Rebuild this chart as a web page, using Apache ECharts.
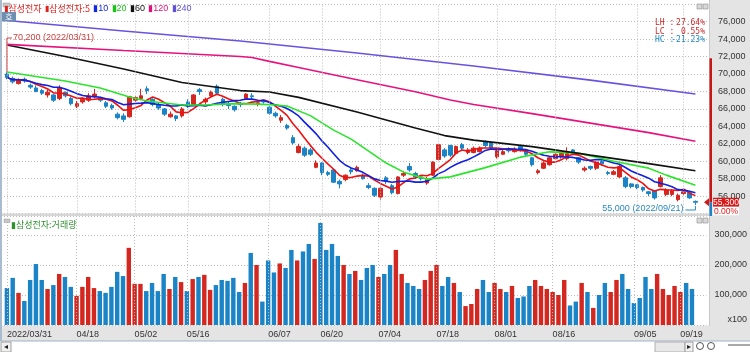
<!DOCTYPE html>
<html>
<head>
<meta charset="utf-8">
<script src="https://cdn.jsdelivr.net/npm/echarts@6/dist/echarts.min.js"></script>
<style>
html, body { margin: 0; padding: 0; background: #fff; }
#chart { width: 750px; height: 352px; }
</style>
</head>
<body>
<div id="chart"></div>
<script>
// ================= 데이터 =================
const dates = [
  '2022/03/31',
  '2022/04/01','2022/04/04','2022/04/05','2022/04/06','2022/04/07','2022/04/08','2022/04/11','2022/04/12','2022/04/13','2022/04/14','2022/04/15',
  '2022/04/18','2022/04/19','2022/04/20','2022/04/21','2022/04/22','2022/04/25','2022/04/26','2022/04/27','2022/04/28','2022/04/29',
  '2022/05/02','2022/05/03','2022/05/04','2022/05/06','2022/05/09','2022/05/10','2022/05/11','2022/05/12','2022/05/13',
  '2022/05/16','2022/05/17','2022/05/18','2022/05/19','2022/05/20','2022/05/23','2022/05/24','2022/05/25','2022/05/26','2022/05/27','2022/05/30','2022/05/31',
  '2022/06/02','2022/06/03','2022/06/07','2022/06/08','2022/06/09','2022/06/10','2022/06/13','2022/06/14','2022/06/15','2022/06/16','2022/06/17',
  '2022/06/20','2022/06/21','2022/06/22','2022/06/23','2022/06/24','2022/06/27','2022/06/28','2022/06/29','2022/06/30',
  '2022/07/01','2022/07/04','2022/07/05','2022/07/06','2022/07/07','2022/07/08','2022/07/11','2022/07/12','2022/07/13','2022/07/14','2022/07/15',
  '2022/07/18','2022/07/19','2022/07/20','2022/07/21','2022/07/22','2022/07/25','2022/07/26','2022/07/27','2022/07/28','2022/07/29',
  '2022/08/01','2022/08/02','2022/08/03','2022/08/04','2022/08/05','2022/08/08','2022/08/09','2022/08/10','2022/08/11','2022/08/12',
  '2022/08/16','2022/08/17','2022/08/18','2022/08/19','2022/08/22','2022/08/23','2022/08/24','2022/08/25','2022/08/26','2022/08/29','2022/08/30','2022/08/31',
  '2022/09/01','2022/09/02','2022/09/05','2022/09/06','2022/09/07','2022/09/08','2022/09/13','2022/09/14','2022/09/15','2022/09/16',
  '2022/09/19','2022/09/20','2022/09/21'
]

// [시가, 종가, 저가, 고가]
const ohlc = [
  [70000,69600,69400,70200],[69500,69100,68900,69700],[68900,69300,68800,69500],[69400,69200,69000,69600],[68700,68500,68300,68900],
  [68400,68000,67900,68700],[68100,67800,67600,68300],[67600,67900,67300,68200],[67600,67000,66800,67700],[67200,68400,67000,68700],
  [67900,67500,67300,68000],[67200,66600,66400,67400],[66300,66600,66100,66900],[66800,67100,66600,67300],[67000,67500,66800,67800],
  [67400,67700,67200,68300],[67300,67000,66800,67400],[66700,66300,66100,66900],[66400,66100,65900,66600],[65400,65000,64800,65600],
  [65200,64800,64500,65500],[65100,67400,65000,67500],[67000,67300,66800,67500],[67200,67500,67000,68300],[68300,68100,67700,68600],
  [67100,66500,66300,67200],[66500,66100,65900,66700],[66000,65400,65200,66100],[65100,65400,65000,65700],[65200,64900,64600,65300],
  [65200,66000,65000,66200],[66800,66300,66100,67100],[66500,67600,66400,67700],[68200,68000,67600,68400],[66800,67100,66500,67300],
  [67500,67900,67300,68100],[68600,67800,67600,68800],[67100,66500,66300,67300],[66600,66400,66000,66800],[66300,65900,65700,66400],
  [66600,66500,66200,66800],[67200,67700,67100,67800],[67500,67400,67100,67800],[66500,66700,66300,67000],[67000,66800,66600,67100],
  [66200,65500,65300,66300],[65500,65200,65000,65700],[64700,65000,64400,65300],[64100,63800,63600,64300],[62700,62100,61900,63000],
  [61000,61700,60900,62000],[61500,60700,60500,61700],[61300,60800,60600,61500],[59300,59800,59200,60100],[59800,58700,58400,59900],
  [58700,58500,58300,58900],[59000,57600,57500,59100],[57700,57400,56900,57900],[57900,58400,57700,58500],[59000,58800,58500,59300],
  [58900,59300,58800,59500],[58400,58000,57900,58600],[57200,57000,56800,57500],[56900,56100,55900,57000],[55900,56900,55600,57000],
  [58100,57700,57400,58300],[57200,56400,56200,57400],[56300,58200,56200,58300],[58400,58600,58200,58900],[59400,59000,58800,59800],
  [58600,58200,58000,58800],[58200,58000,57800,58400],[57500,57900,57300,58200],[58400,59900,58300,60000],[60200,61900,60100,62000],
  [61300,60600,60400,61500],[61800,60700,60500,61900],[60900,61700,60800,61800],[61900,61500,61300,62100],[61000,61300,60800,61500],
  [61000,61500,60900,61700],[61100,61500,61000,61700],[62200,61800,61600,62400],[62100,61500,61300,62300],[60500,61200,60300,61400],
  [60800,61100,60700,61300],[61400,61200,61000,61600],[61100,61400,61000,61600],[61700,61300,61100,61800],[61300,60800,60600,61400],
  [60400,59600,59400,60500],[58700,58900,58500,59100],[59200,59800,59100,60000],[59600,60400,59500,60500],[60300,60800,60200,61000],
  [60500,60900,60300,61100],[60300,60900,60100,61600],[61300,61000,60800,61400],[60400,59900,59700,60500],[59000,59200,58800,59400],
  [59400,59200,59000,59500],[59200,59900,59000,60000],[60000,59700,59500,60100],[58700,58600,58400,58900],[58500,58800,58400,59000],
  [58200,59400,58100,59600],[58100,57100,56900,58300],[57400,57100,56900,57500],[57300,57000,56800,57400],[57000,56700,56500,57100],
  [56500,56300,56000,56600],[56600,55800,55600,56700],[57100,58100,57000,58400],[56200,56700,56000,56900],[56200,56600,56000,56800],
  [55600,56100,55400,56300],[56300,56500,56100,56700],[56400,55800,55700,56600],[55400,55300,55000,55500]
]

// 거래량 (x100)
const volumes = [
  123000,157000,107000,80000,150000,203000,150000,120000,133000,170000,160000,127000,97000,127000,160000,123000,113000,107000,127000,177000,
  163000,257000,137000,137000,113000,140000,113000,170000,120000,160000,143000,113000,153000,160000,167000,117000,133000,150000,147000,157000,
  110000,140000,240000,200000,78000,215000,175000,205000,190000,250000,215000,245000,270000,220000,340000,250000,270000,230000,200000,170000,
  180000,150000,190000,200000,160000,170000,200000,250000,170000,140000,130000,120000,150000,180000,200000,130000,160000,140000,110000,63000,
  70000,120000,150000,110000,140000,120000,110000,130000,90000,95000,130000,150000,130000,120000,110000,100000,150000,65000,78000,140000,
  110000,57000,100000,140000,110000,150000,170000,120000,73000,90000,160000,120000,170000,120000,100000,130000,110000,140000,120000
]

// 차트에서 읽은 이동평균 (index, 값)
const ma20Read = [[0,70220],[10,69190],[16,68390],[21,67360],[24,66900],[30,66440],[34,66440],[39,66610],[43,66550],[46,66440],
  [48,66320],[52,65230],[56,63570],[59,62540],[65,59790],[68,58750],[72,57950],[76,58210],[82,59270],[88,60470],[93,61080],
  [98,60930],[104,60010],[110,59210],[113,58410],[118,57260]]
const ma60Read = [[0,73320],[10,72000],[20,70570],[30,69020],[40,68100],[45,67930],[50,67320],[60,65640],[70,63800],[75,62940],
  [80,62420],[90,61680],[100,60700],[110,59730],[118,58920]]
const ma120Read = [[0,73400],[20,72690],[40,72010],[42,71890],[45,71450],[50,70750],[60,69350],[70,67970],[76,67010],[80,66500],
  [90,65460],[100,64370],[110,63280],[118,62290]]
const ma240Read = [[0,76130],[20,74930],[40,73780],[60,72400],[80,70910],[100,69300],[118,67700]]

const labelDates = ['2022/03/31','2022/04/18','2022/05/02','2022/05/16','2022/06/07','2022/06/20','2022/07/04',
  '2022/07/18','2022/08/01','2022/08/16','2022/09/05','2022/09/19']

const upperLimit = 71800
const changeText = '0.00%'

// ================= 스타일 =================
const UP = '#d42720'
const DOWN = '#1a84c6'
const NUM_FONT = "'Liberation Sans', 'Noto Sans CJK KR', sans-serif"
const KR_FONT = "'Noto Sans CJK KR', 'Liberation Sans', sans-serif"
const MONO = "'DejaVu Sans Mono', monospace"
const GRID_LINE = { type: [1, 2], color: '#bdbdbd', width: 1 }

const closes = ohlc.map(d => d[1])
const calcMA = (n) => closes.map((_, i) => {
  const s = Math.max(0, i - n + 1)
  let sum = 0
  for (let j = s; j <= i; j++) sum += closes[j]
  return Math.round(sum / (i - s + 1))
})

const fmt = (v) => v.toLocaleString('en-US')
const labelIdx = labelDates.map(d => dates.indexOf(d))

const vLines = () => ({
  silent: true,
  symbol: ['none', 'none'],
  label: { show: false },
  lineStyle: GRID_LINE,
  animation: false,
  data: labelDates.map(d => ({ xAxis: d }))
})

const maLine = (name, data, color) => ({
  name,
  type: 'line',
  xAxisIndex: 0,
  yAxisIndex: 0,
  data,
  showSymbol: false,
  symbol: 'none',
  smooth: false,
  z: 4,
  lineStyle: { color, width: 1.6 },
  animation: false
})

const chart = echarts.init(document.getElementById('chart'))

chart.setOption({
  animation: false,
  backgroundColor: '#ffffff',
  grid: [
    { left: 4, right: 40, top: 4.2, height: 209.4 },
    { left: 4, right: 40, top: 216, height: 109 }
  ],
  xAxis: [
    {
      type: 'category', gridIndex: 0, data: dates, max: 120, boundaryGap: true,
      axisLine: { show: false }, axisTick: { show: false }, axisLabel: { show: false }, splitLine: { show: false }
    },
    {
      type: 'category', gridIndex: 1, data: dates, max: 120, boundaryGap: true,
      axisLine: { show: false }, axisTick: { show: false }, splitLine: { show: false },
      axisLabel: {
        interval: (i) => labelIdx.includes(i),
        formatter: (v, i) => (i === 0 ? v : v.slice(5)),
        align: 'left',
        margin: 5,
        color: '#333',
        fontSize: 9,
        fontFamily: NUM_FONT
      }
    }
  ],
  yAxis: [
    {
      type: 'value', gridIndex: 0, position: 'right', min: 54000, max: 78000, interval: 2000,
      axisLine: { show: false }, axisTick: { show: false },
      axisLabel: { formatter: fmt, color: '#333', fontSize: 9, fontFamily: NUM_FONT, margin: 8, showMinLabel: false, showMaxLabel: false },
      splitLine: { show: true, lineStyle: GRID_LINE }
    },
    {
      type: 'value', gridIndex: 1, position: 'right', min: 0, max: 363000, interval: 100000,
      axisLine: { show: false }, axisTick: { show: false },
      axisLabel: { formatter: fmt, color: '#333', fontSize: 9, fontFamily: NUM_FONT, margin: 8, showMinLabel: false, showMaxLabel: false },
      splitLine: { show: true, lineStyle: GRID_LINE }
    }
  ],
  series: [
    {
      name: '삼성전자',
      type: 'candlestick',
      xAxisIndex: 0,
      yAxisIndex: 0,
      data: ohlc,
      barWidth: '70%',
      z: 3,
      itemStyle: { color: UP, color0: DOWN, borderColor: UP, borderColor0: DOWN, borderWidth: 1 },
      markLine: vLines()
    },
    maLine('5', calcMA(5), '#ee1111'),
    maLine('10', calcMA(10), '#1020e0'),
    maLine('20', ma20Read, '#2ae62a'),
    maLine('60', ma60Read, '#111111'),
    maLine('120', ma120Read, '#e8127e'),
    maLine('240', ma240Read, '#6a52e0'),
    {
      name: '거래량',
      type: 'bar',
      xAxisIndex: 1,
      yAxisIndex: 1,
      data: volumes,
      barWidth: '76%',
      itemStyle: {
        color: (p) => (ohlc[p.dataIndex][1] >= ohlc[p.dataIndex][0] ? UP : DOWN)
      },
      markLine: vLines()
    }
  ]
})

// ================= 주석 / 장식 =================
const px = (i, v) => chart.convertToPixel({ gridIndex: 0 }, [dates[i], v])

let hiIdx = 0
let loIdx = 0
ohlc.forEach((d, i) => {
  if (d[3] > ohlc[hiIdx][3]) hiIdx = i
  if (d[2] < ohlc[loIdx][2]) loIdx = i
})
const hi = ohlc[hiIdx][3]
const lo = ohlc[loIdx][2]
const last = closes[closes.length - 1]
const pct = (v) => v.toFixed(2) + '%'

const hiPt = px(hiIdx, hi)
const loPt = px(loIdx, lo)
const lastY = px(0, last)[1]
const limitY = px(0, upperLimit)[1]

const graphics = [
  // 축 배경
  { type: 'rect', z: -10, shape: { x: 710, y: 0, width: 40, height: 326 }, style: { fill: '#e4e4e4' } },
  { type: 'rect', z: -10, shape: { x: 0, y: 325.5, width: 750, height: 15.5 }, style: { fill: '#e4e4e4' } },
  { type: 'rect', z: 10, shape: { x: 0, y: 213.6, width: 710, height: 2.4 }, style: { fill: '#d6d6d6' } },
  { type: 'line', z: 10, shape: { x1: 709.5, y1: 0, x2: 709.5, y2: 326 }, style: { stroke: '#c8c8c8', lineWidth: 1 } },
  { type: 'line', z: 10, shape: { x1: 0, y1: 341, x2: 750, y2: 341 }, style: { stroke: '#9fb3c8', lineWidth: 1 } },
  { type: 'line', z: 10, shape: { x1: 1, y1: 0, x2: 1, y2: 341 }, style: { stroke: '#a9bccf', lineWidth: 2 } },
  // 하단 스크롤
  { type: 'rect', z: 10, shape: { x: 1, y: 342, width: 10, height: 10 }, style: { fill: '#f0f0f0', stroke: '#a0a0a0' } },
  { type: 'text', z: 11, style: { x: 6, y: 347, text: '◂', fontSize: 8, fill: '#222', align: 'center', verticalAlign: 'middle', fontFamily: 'DejaVu Sans' } },
  { type: 'rect', z: 10, shape: { x: 655, y: 342, width: 30, height: 10 }, style: { fill: '#e8e8e8', stroke: '#b0b0b0' } },
  { type: 'rect', z: 10, shape: { x: 685, y: 342, width: 8, height: 10 }, style: { fill: '#f0f0f0', stroke: '#a0a0a0' } },
  { type: 'text', z: 11, style: { x: 689, y: 347, text: '▸', fontSize: 8, fill: '#222', align: 'center', verticalAlign: 'middle', fontFamily: 'DejaVu Sans' } },
  { type: 'circle', z: 11, shape: { cx: 700, cy: 346, r: 3.5 }, style: { fill: 'none', stroke: '#555' } },
  { type: 'circle', z: 11, shape: { cx: 711, cy: 346, r: 3.5 }, style: { fill: 'none', stroke: '#555' } },
  { type: 'line', z: 11, shape: { x1: 728, y1: 345, x2: 750, y2: 345 }, style: { stroke: '#555' } },
  // 범례
  { type: 'rect', z: 10, shape: { x: 3, y: 3, width: 7, height: 4 }, style: { fill: '#c8c8c8', stroke: '#999', lineWidth: 0.5 } },
  {
    type: 'text', z: 10,
    style: {
      x: 4, y: 8.5, verticalAlign: 'middle',
      text: '{r|▮}{rt|삼성전자} {r|▮}{rt|삼성전자:5} {b|▮10} {g|▮20} {k|▮60} {m|▮120} {p|▮240}',
      rich: {
        r: { fill: '#e0201c', fontSize: 8, fontFamily: 'DejaVu Sans' },
        rt: { fill: '#e0201c', fontSize: 9, fontFamily: KR_FONT },
        b: { fill: '#1028e0', fontSize: 9, fontFamily: NUM_FONT },
        g: { fill: '#16c416', fontSize: 9, fontFamily: NUM_FONT },
        k: { fill: '#111', fontSize: 9, fontFamily: NUM_FONT },
        m: { fill: '#e0107a', fontSize: 9, fontFamily: NUM_FONT },
        p: { fill: '#6050d8', fontSize: 9, fontFamily: NUM_FONT }
      }
    }
  },
  { type: 'rect', z: 10, shape: { x: 2, y: 12, width: 14, height: 9.5 }, style: { fill: '#6e8fb2' } },
  { type: 'text', z: 11, style: { x: 9, y: 16.8, text: '호', fontSize: 8, fill: '#fff', align: 'center', verticalAlign: 'middle', fontFamily: KR_FONT } },
  { type: 'rect', z: 10, shape: { x: 4, y: 219, width: 6, height: 3.5 }, style: { fill: '#c8c8c8', stroke: '#999', lineWidth: 0.5 } },
  {
    type: 'text', z: 10,
    style: { x: 11, y: 225, verticalAlign: 'middle', text: '▮삼성전자:거래량', fontSize: 9, fill: '#2f8f2f', fontFamily: KR_FONT }
  },
  // 패널 버튼
  { type: 'rect', z: 10, shape: { x: 697, y: 4, width: 5, height: 5 }, style: { fill: '#d8d8d8', stroke: '#8a8a8a', lineWidth: 0.6 } },
  { type: 'rect', z: 10, shape: { x: 703, y: 4, width: 5, height: 5 }, style: { fill: '#d8d8d8', stroke: '#8a8a8a', lineWidth: 0.6 } },
  { type: 'rect', z: 10, shape: { x: 697, y: 218, width: 5, height: 5 }, style: { fill: '#d8d8d8', stroke: '#8a8a8a', lineWidth: 0.6 } },
  { type: 'rect', z: 10, shape: { x: 703, y: 218, width: 5, height: 5 }, style: { fill: '#d8d8d8', stroke: '#8a8a8a', lineWidth: 0.6 } },
  // LH / LC / HC
  { type: 'text', z: 10, style: { x: 655, y: 23, text: 'LH :', fontSize: 8, fill: '#d02828', fontFamily: MONO, verticalAlign: 'middle' } },
  { type: 'text', z: 10, style: { x: 705, y: 23, text: pct((hi / lo - 1) * 100), fontSize: 8, fill: '#d02828', fontFamily: MONO, align: 'right', verticalAlign: 'middle' } },
  { type: 'text', z: 10, style: { x: 655, y: 31.5, text: 'LC :', fontSize: 8, fill: '#d02828', fontFamily: MONO, verticalAlign: 'middle' } },
  { type: 'text', z: 10, style: { x: 705, y: 31.5, text: pct((last / lo - 1) * 100), fontSize: 8, fill: '#d02828', fontFamily: MONO, align: 'right', verticalAlign: 'middle' } },
  { type: 'text', z: 10, style: { x: 655, y: 40, text: 'HC :', fontSize: 8, fill: '#1f86c2', fontFamily: MONO, verticalAlign: 'middle' } },
  { type: 'text', z: 10, style: { x: 705, y: 40, text: pct((last / hi - 1) * 100), fontSize: 8, fill: '#1f86c2', fontFamily: MONO, align: 'right', verticalAlign: 'middle' } },
  // 최고가 / 최저가 표시
  { type: 'polyline', z: 10, shape: { points: [[hiPt[0], hiPt[1]], [hiPt[0], 38], [hiPt[0] + 5, 38]] }, style: { stroke: '#d04040', lineWidth: 1, fill: 'none' } },
  { type: 'text', z: 10, style: { x: hiPt[0] + 6, y: 38, text: fmt(hi) + ' (' + dates[hiIdx] + ')', fontSize: 9, fill: '#d04040', fontFamily: NUM_FONT, verticalAlign: 'middle' } },
  { type: 'polyline', z: 10, shape: { points: [[loPt[0], loPt[1] + 1], [loPt[0], 210], [loPt[0] - 10, 210]] }, style: { stroke: '#2a8ac0', lineWidth: 1, fill: 'none' } },
  { type: 'text', z: 10, style: { x: loPt[0] - 12, y: 209, text: fmt(lo) + ' (' + dates[loIdx] + ')', fontSize: 9, fill: '#2a8ac0', fontFamily: NUM_FONT, align: 'right', verticalAlign: 'middle' } },
  // 상한가 / 현재가 막대
  { type: 'rect', z: 12, shape: { x: 709.5, y: limitY, width: 2.5, height: lastY - limitY }, style: { fill: '#c81414' } },
  { type: 'rect', z: 12, shape: { x: 709.5, y: lastY, width: 2.5, height: 216 - lastY }, style: { fill: '#1a84c6' } },
  { type: 'polygon', z: 12, shape: { points: [[704, lastY], [709, lastY - 4], [709, lastY + 4]] }, style: { fill: '#d01818' } },
  { type: 'rect', z: 12, shape: { x: 713, y: lastY - 4.5, width: 26, height: 9 }, style: { fill: '#d81818' } },
  { type: 'text', z: 13, style: { x: 726, y: lastY, text: fmt(last), fontSize: 8.5, fill: '#fff', fontFamily: NUM_FONT, align: 'center', verticalAlign: 'middle' } },
  { type: 'rect', z: 12, shape: { x: 713, y: lastY + 4.5, width: 26, height: 8.5 }, style: { fill: '#ffffff' } },
  { type: 'text', z: 13, style: { x: 726, y: lastY + 9, text: changeText, fontSize: 8.5, fill: '#e02020', fontFamily: NUM_FONT, align: 'center', verticalAlign: 'middle' } },
  { type: 'text', z: 10, style: { x: 747, y: 320, text: 'x100', fontSize: 9, fill: '#333', fontFamily: NUM_FONT, align: 'right', verticalAlign: 'middle' } }
]

chart.setOption({ graphic: graphics })

window.addEventListener('resize', () => chart.resize())
</script>
</body>
</html>
